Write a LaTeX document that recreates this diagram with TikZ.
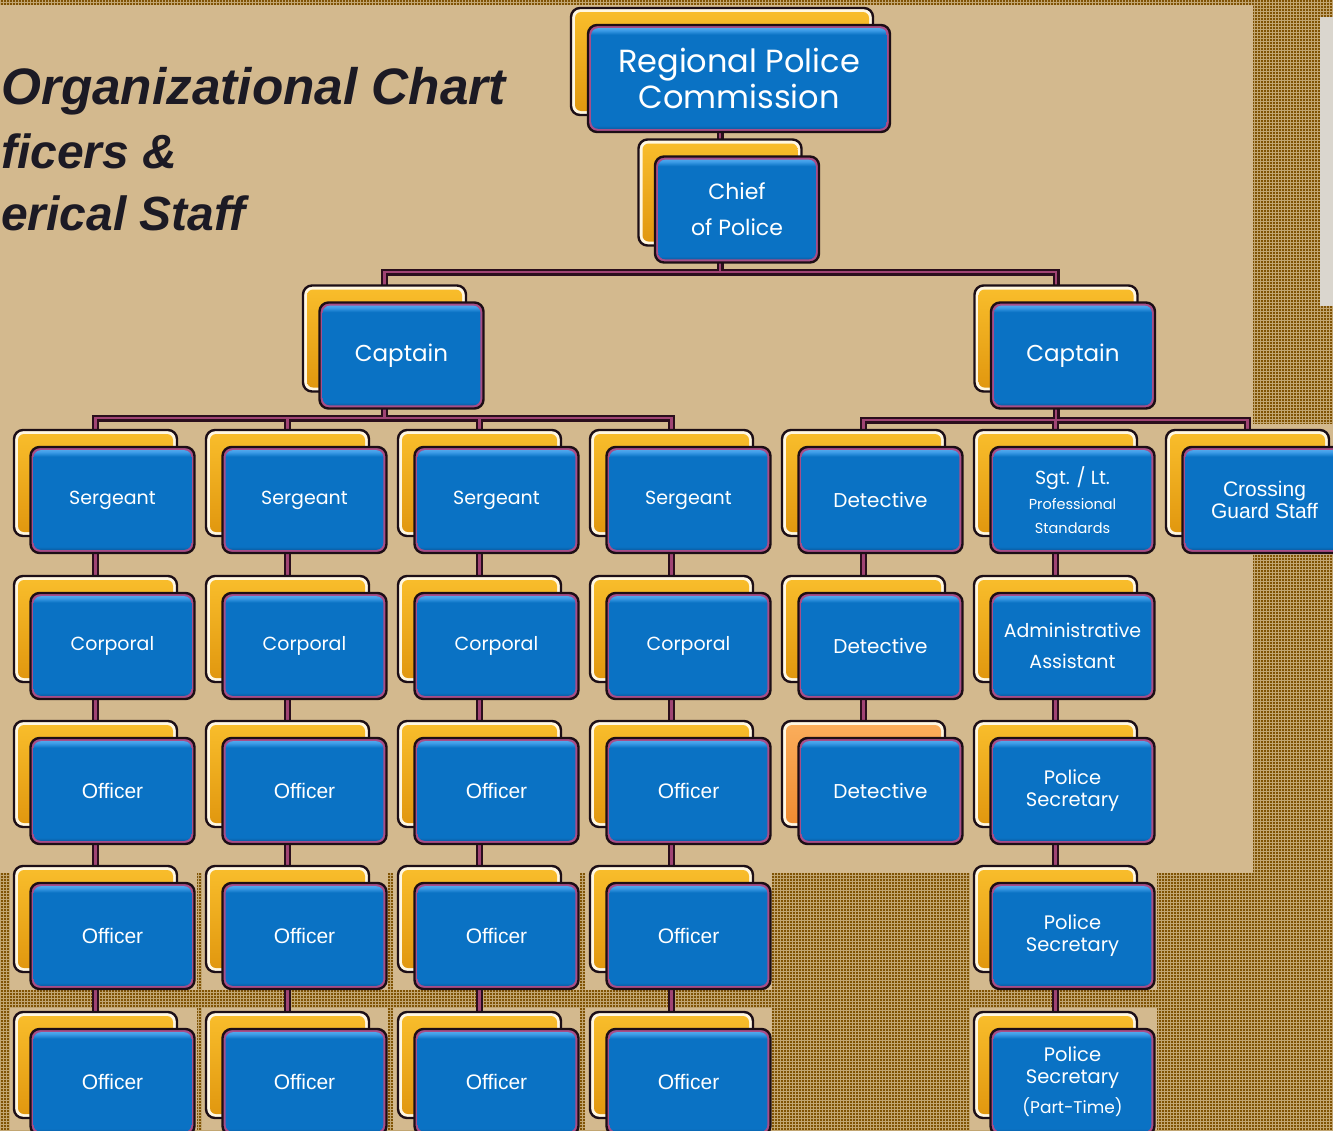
\documentclass[tikz,border=0pt]{standalone}
\usepackage{fontspec}
\setmainfont{Poppins}
\newfontfamily\arialf{Liberation Sans}
\usetikzlibrary{patterns}
\definecolor{tanbg}{HTML}{D3B98E}
\definecolor{brownbg}{HTML}{805304}
\definecolor{dotcol}{HTML}{C2A672}
\definecolor{graybox}{HTML}{DAD6CE}
\definecolor{outl}{HTML}{1C0E16}
\definecolor{cream}{HTML}{FFF7E2}
\definecolor{goldtop}{HTML}{F9BE2C}
\definecolor{goldbot}{HTML}{E0960E}
\definecolor{orgtop}{HTML}{FBAE5C}
\definecolor{orgbot}{HTML}{EE8A30}
\definecolor{pinkband}{HTML}{A84E88}
\definecolor{bbdark}{HTML}{0A4A86}
\definecolor{bbmid}{HTML}{0A72C4}
\definecolor{bblight}{HTML}{3A9AE6}
\definecolor{bbhi}{HTML}{6AB8F2}
\definecolor{connout}{HTML}{2A0E1C}
\definecolor{connin}{HTML}{A04474}
\definecolor{titlecol}{HTML}{1C1A24}
\pgfdeclarelayer{bg}
\pgfdeclarelayer{conn}
\pgfsetlayers{bg,conn,main}
\pgfdeclareverticalshading{bluebevel}{100bp}{color(0bp)=(bbdark); color(25bp)=(bbdark); color(28bp)=(bbmid); color(70.5bp)=(bbmid); color(72.5bp)=(bblight); color(75bp)=(bbhi); color(100bp)=(bbhi)}
\newcommand\orgbox[6]{%
  \node[backbox,#4] (#1b) at (#2-17,#3-17) {};
  \node[frontbox,#6] (#1) at (#2,#3) {#5};}
\begin{document}
\begin{tikzpicture}[x=1pt,y=-1pt,
  backbox/.style={rectangle, rounded corners=9pt, draw=outl, line width=2.4pt, fill=cream,
    minimum width=163pt, minimum height=106pt, inner sep=0pt,
    path picture={\fill[rounded corners=6pt, top color=goldtop, bottom color=goldbot]
      ([shift={(4pt,4pt)}]path picture bounding box.south west) rectangle
      ([shift={(-4pt,-4pt)}]path picture bounding box.north east);}},
  orangeback/.style={path picture={\fill[rounded corners=6pt, top color=orgtop, bottom color=orgbot]
      ([shift={(4pt,4pt)}]path picture bounding box.south west) rectangle
      ([shift={(-4pt,-4pt)}]path picture bounding box.north east);}},
  frontbox/.style={rectangle, rounded corners=9pt, draw=outl, line width=2.4pt, fill=pinkband,
    minimum width=164pt, minimum height=106pt, inner sep=0pt, text=white, align=center,
    font=\fontsize{19}{24}\selectfont,
    path picture={\shade[rounded corners=7pt, shading=bluebevel]
      ([shift={(3.2pt,3.2pt)}]path picture bounding box.south west) rectangle
      ([shift={(-3.2pt,-3.2pt)}]path picture bounding box.north east);}},
  wide/.style={minimum width=302pt, minimum height=107pt},
  arialtxt/.style={font=\arialf\fontsize{21}{22}\selectfont},
  secfont/.style={font=\fontsize{19.5}{22}\selectfont},
  connA/.style={draw=connout, line width=7pt},
  connB/.style={draw=connin, line width=2.6pt},
  titletxt/.style={font=\arialf\bfseries\itshape, text=titlecol, inner sep=0pt, anchor=base west}
]
\useasboundingbox (0,0) rectangle (1333,1130);
\clip (0,0) rectangle (1333,1130);

% ---------- page background ----------
\begin{pgfonlayer}{bg}
  \fill[brownbg] (0,0) rectangle (1333,1130);
  \fill[pattern=grid, pattern color=dotcol] (0,0) rectangle (1333,1130);
  \fill[tanbg] (0,5) rectangle (1253,873);
  \fill[tanbg] (1253,424) rectangle (1333,555);
  \fill[graybox] (1320,17) rectangle (1333,306);
  \foreach \xa/\xb in {10/197,202/388,393/580,585/772,970/1157}{
    \fill[tanbg] (\xa,873) rectangle (\xb,990);
    \fill[tanbg] (\xa,1008) rectangle (\xb,1130);
  }
\end{pgfonlayer}

% ---------- title ----------
\node[titletxt, font=\arialf\bfseries\itshape\fontsize{51.3}{60}\selectfont] (t1) at (1,104) {Organizational Chart};
\node[titletxt, font=\arialf\bfseries\itshape\fontsize{48}{60}\selectfont] (t2) at (1,168) {ficers \&};
\node[titletxt, font=\arialf\bfseries\itshape\fontsize{48}{60}\selectfont] (t3) at (1,230) {erical Staff};

% ---------- boxes ----------
\orgbox{rpc}{739}{78.5}{wide}{\fontsize{32}{36}\selectfont Regional Police\\[2pt]\fontsize{32}{36}\selectfont Commission}{wide}
\orgbox{chief}{737}{209.5}{}{\fontsize{22}{36}\selectfont Chief\\[12pt]\fontsize{22}{36}\selectfont of Police}{}
\orgbox{capL}{401.5}{355.5}{}{\fontsize{23}{26}\selectfont Captain}{}
\orgbox{capR}{1073}{355.5}{}{\fontsize{23}{26}\selectfont Captain}{}

\foreach \i/\cx in {1/112.5,2/304.5,3/496.5,4/688.5}{
  \orgbox{s\i}{\cx}{500}{}{Sergeant}{}
  \orgbox{c\i}{\cx}{646}{}{Corporal}{}
  \orgbox{oa\i}{\cx}{791}{}{Officer}{arialtxt}
  \orgbox{ob\i}{\cx}{936}{}{Officer}{arialtxt}
  \orgbox{oc\i}{\cx}{1082}{}{Officer}{arialtxt}
}
\orgbox{d1}{880.5}{500}{}{\fontsize{20}{24}\selectfont Detective}{}
\orgbox{d2}{880.5}{646}{}{\fontsize{20}{24}\selectfont Detective}{}
\orgbox{d3}{880.5}{791}{orangeback}{\fontsize{20}{24}\selectfont Detective}{}

\orgbox{sgt}{1072.5}{500}{}{\fontsize{19}{24}\selectfont Sgt. / Lt.\\[1pt]\fontsize{14.5}{24}\selectfont Professional\\\fontsize{14.5}{24}\selectfont Standards}{}
\orgbox{adm}{1072.5}{646}{}{\fontsize{19}{31}\selectfont Administrative\\[7pt]\fontsize{19}{31}\selectfont Assistant}{}
\orgbox{ps1}{1072.5}{791}{}{Police\\Secretary}{secfont}
\orgbox{ps2}{1072.5}{936}{}{Police\\Secretary}{secfont}
\orgbox{ps3}{1072.5}{1082}{}{Police\\Secretary\\[8pt]\fontsize{17}{22}\selectfont (Part-Time)}{secfont}
\orgbox{cg}{1264.5}{500}{}{Crossing\\Guard Staff}{arialtxt}

% ---------- connectors ----------
\coordinate (busT) at (0,272);
\coordinate (busL) at (0,418);
\coordinate (busR) at (0,420);
\newcommand\allconns[1]{%
  \draw[#1] (chiefb.center) -- (chiefb.center |- rpcb.center);
  \draw[#1] (chiefb.center) -- (chiefb.center |- busT);
  \draw[#1] (capLb.center) -- (capLb.center |- busT) -- (capRb.center |- busT) -- (capRb.center);
  \draw[#1] (capLb.center) -- (capLb.center |- busL);
  \draw[#1] (s1b.center) -- (s1b.center |- busL) -- (s4b.center |- busL) -- (s4b.center);
  \draw[#1] (s2b.center) -- (s2b.center |- busL);
  \draw[#1] (s3b.center) -- (s3b.center |- busL);
  \draw[#1] (capRb.center) -- (capRb.center |- busR);
  \draw[#1] (d1b.center) -- (d1b.center |- busR) -- (cgb.center |- busR) -- (cgb.center);
  \draw[#1] (sgtb.center) -- (sgtb.center |- busR);
  \draw[#1] (s1b.center) -- (oc1b.center);
  \draw[#1] (s2b.center) -- (oc2b.center);
  \draw[#1] (s3b.center) -- (oc3b.center);
  \draw[#1] (s4b.center) -- (oc4b.center);
  \draw[#1] (d1b.center) -- (d3b.center);
  \draw[#1] (sgtb.center) -- (ps3b.center);
}
\begin{pgfonlayer}{conn}
  \allconns{connA}
  \allconns{connB}
\end{pgfonlayer}
\end{tikzpicture}
\end{document}
